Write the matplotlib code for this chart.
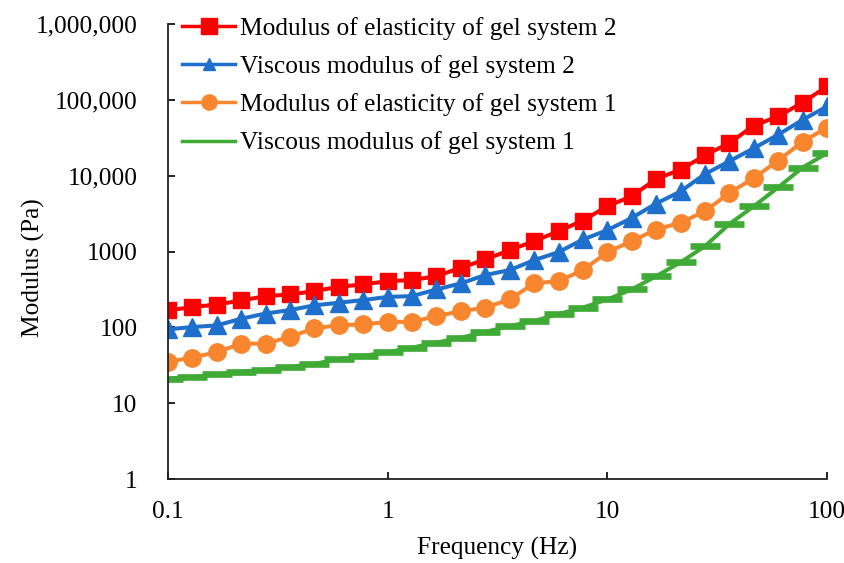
import numpy as np
import matplotlib
matplotlib.use('Agg')
import matplotlib.pyplot as plt
from matplotlib.lines import Line2D
from matplotlib.ticker import FixedLocator, FixedFormatter, NullLocator

# %% Data (9 points per decade, 0.1 - 100 Hz)
freq = 10 ** (-1 + np.arange(28) / 9)

elastic_2 = [167, 185, 200, 226, 258, 271, 300, 343, 368, 407, 420, 473, 610, 785,
             1040, 1370, 1850, 2560, 3950, 5350, 9040, 12000, 18500, 26900, 45700,
             60500, 92000, 150000]
viscous_2 = [94, 101, 106, 130, 152, 169, 195, 211, 229, 252, 258, 316, 380, 490,
             568, 769, 980, 1440, 1910, 2770, 4290, 6200, 10500, 15500, 23000,
             34700, 54500, 81700]
elastic_1 = [35, 40, 47, 61, 61, 75, 97, 107, 109, 118, 118, 141, 163, 182,
             233, 380, 407, 568, 980, 1370, 1950, 2400, 3400, 5900, 9300,
             15800, 28000, 43000]
viscous_1 = [21, 22, 24, 26, 27.5, 30, 33, 38, 42, 47, 54, 63, 73, 87,
             104, 121, 150, 182, 233, 316, 473, 720, 1175, 2300, 3950,
             7000, 12800, 19800]

labels = ['Modulus of elasticity of gel system 2',
          'Viscous modulus of gel system 2',
          'Modulus of elasticity of gel system 1',
          'Viscous modulus of gel system 1']

y_ticks = [1, 10, 100, 1000, 10000, 100000, 1000000]
y_tick_labels = ['1', '10', '100', '1000', '10,000', '100,000', '1,000,000']
x_ticks = [0.1, 1, 10, 100]
x_tick_labels = ['0.1', '1', '10', '100']

# %% Plot
plt.rcParams['font.family'] = ['Liberation Serif', 'DejaVu Serif']
fs = 18.3
c_red, c_blue, c_orange, c_green = '#FF0000', '#1F6FCC', '#F8862F', '#3FAA35'

fig = plt.figure(figsize=(8.45, 5.63), dpi=100)
ax = fig.add_axes([168 / 845, 1 - 479 / 563, 659 / 845, 455 / 563])

ax.plot(freq, elastic_2, color=c_red, lw=2.9, marker='s', ms=11.5)
ax.plot(freq, viscous_2, color=c_blue, lw=2.9, marker='^', ms=12.5)
ax.plot(freq, elastic_1, color=c_orange, lw=2.9, marker='o', ms=12.5)
ax.plot(freq, viscous_1, color=c_green, lw=2.9, marker='_', ms=21, mew=4.8)

ax.set_xscale('log')
ax.set_yscale('log')
ax.set_xlim(0.1, 100)
ax.set_ylim(1, 1000000)

ax.xaxis.set_major_locator(FixedLocator(x_ticks))
ax.xaxis.set_major_formatter(FixedFormatter(x_tick_labels))
ax.xaxis.set_minor_locator(NullLocator())
ax.yaxis.set_major_locator(FixedLocator(y_ticks))
ax.yaxis.set_major_formatter(FixedFormatter(y_tick_labels))
ax.yaxis.set_minor_locator(NullLocator())

ax.spines['top'].set_visible(False)
ax.spines['right'].set_visible(False)
for s in ['left', 'bottom']:
    ax.spines[s].set_linewidth(1.3)
    ax.spines[s].set_color('#222222')

ax.tick_params(axis='x', direction='in', length=5, width=1.2, pad=16, labelsize=fs)
ax.tick_params(axis='y', direction='in', length=5, width=1.2, pad=22, labelsize=fs)

ax.set_xlabel('Frequency (Hz)', fontsize=fs)
ax.xaxis.set_label_coords(0.5, -0.128)
ax.set_ylabel('Modulus (Pa)', fontsize=fs)
ax.yaxis.set_label_coords(-0.186, 0.464)

for lab in ax.get_xticklabels() + ax.get_yticklabels():
    lab.set_clip_on(False)

# legend handles as in the original (smaller markers, plain green line)
handles = [Line2D([], [], color=c_red, lw=2.5, marker='s', ms=11),
           Line2D([], [], color=c_blue, lw=2.5, marker='^', ms=9),
           Line2D([], [], color=c_orange, lw=2.5, marker='o', ms=11),
           Line2D([], [], color=c_green, lw=2.5)]
leg = ax.legend(handles, labels, loc='upper left', bbox_to_anchor=(-0.005, 1.055),
                frameon=False, fontsize=fs, handlelength=2.05, handletextpad=0.2,
                labelspacing=0.6, borderaxespad=0.3)

fig.savefig('out.png', dpi=100)
